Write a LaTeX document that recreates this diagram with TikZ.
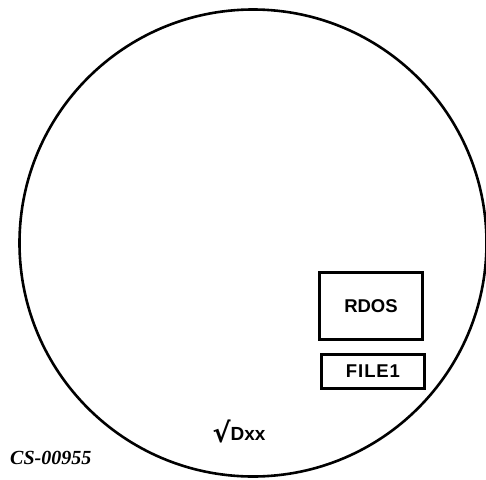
\documentclass[tikz,border=0pt]{standalone}
\usepackage{fontspec}
\setmainfont{Liberation Serif}
\setsansfont{Liberation Sans}
\newfontfamily\symfont{DejaVu Sans}
\begin{document}
\begin{tikzpicture}[
        x=1pt, y=-1pt,
        disk/.style={circle, draw=black, line width=2.6pt, minimum size=467pt, inner sep=0pt},
        volbox/.style={rectangle, draw=black, line width=2.8pt, minimum width=103pt, font=\sffamily\bfseries\fontsize{18.5}{20}\selectfont, align=center},
        dirlabel/.style={font=\sffamily\bfseries\fontsize{19}{20}\selectfont, inner sep=0pt},
        figlabel/.style={font=\rmfamily\bfseries\itshape\fontsize{20}{22}\selectfont, inner sep=0pt}
    ]
        \useasboundingbox (0,0) rectangle (486,479);

        % Disk outline
        \node[disk] (disk) at (253, 243) {};

        % Directories on the disk
        \node[volbox, minimum height=67pt] (rdos) at (371, 306) {RDOS};
        \node[volbox, minimum height=34pt] (file1) at (373, 371.5) {\addfontfeature{LetterSpace=5}FILE1};

        % Current directory mark
        \node[dirlabel] (dxx) at (239, 431) {{\symfont\fontsize{27}{27}\selectfont\raisebox{-2pt}{√}}Dxx};

        % Figure number
        \node[figlabel, anchor=west] (figno) at (10, 458) {CS-00955};
\end{tikzpicture}
\end{document}
